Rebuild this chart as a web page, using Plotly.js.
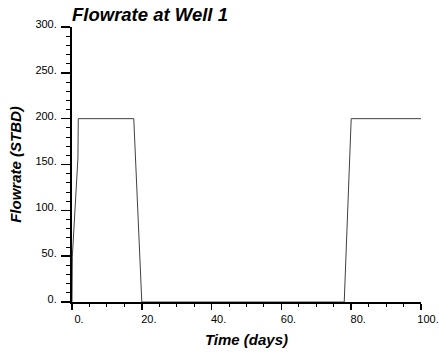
<!DOCTYPE html>
<html><head><meta charset="utf-8">
<script src="https://cdn.plot.ly/plotly-3.0.1.min.js"></script>
<style>html,body{margin:0;padding:0;background:#fff}#chart{width:439px;height:355px}</style>
</head><body><div id="chart"></div>
<script>
var timeDays = [0, 0.1, 1.7, 1.8, 17.7, 20, 78, 80, 100];
var flowrate = [0, 50, 157, 200, 200, 0, 0, 200, 200];
var xTicks = [0, 20, 40, 60, 80, 100];
var yTicks = [0, 50, 100, 150, 200, 250, 300];

var F = 'Liberation Sans, Arial, Helvetica, sans-serif';
var trace = {x: timeDays, y: flowrate, type: 'scatter', mode: 'lines',
  line: {color: '#404040', width: 1}, hoverinfo: 'none'};
var layout = {
  width: 439, height: 355,
  margin: {l: 72, r: 18, t: 27, b: 53},
  paper_bgcolor: '#fff', plot_bgcolor: '#fff',
  showlegend: false,
  title: {text: 'Flowrate at Well 1', x: 72/439, xanchor: 'left', xref: 'container',
    y: 1 - 15/355, yanchor: 'middle', yref: 'container',
    font: {family: F, size: 18.5, color: '#000', weight: 'bold', style: 'italic'}},
  xaxis: {range: [0, 100], tickvals: xTicks, ticktext: xTicks.map(function(v){return v + '.';}),
    showgrid: false, zeroline: false, showline: true, linecolor: '#000', linewidth: 2,
    ticks: 'outside', ticklen: 6, tickwidth: 1.5, tickcolor: '#000',
    minor: {dtick: 5, ticks: 'outside', ticklen: 3, tickwidth: 1, tickcolor: '#000', showgrid: false},
    ticklabelshift: 7, ticklabelstandoff: 0, ticklabeloverflow: 'allow',
    tickfont: {family: F, size: 11, color: '#000'},
    title: {text: 'Time (days)', standoff: 10, font: {family: F, size: 15, color: '#000', weight: 'bold', style: 'italic'}}},
  yaxis: {range: [0, 300], tickvals: yTicks, ticktext: yTicks.map(function(v){return v + '.';}),
    showgrid: false, zeroline: false, showline: true, linecolor: '#000', linewidth: 2,
    ticks: 'outside', ticklen: 9, tickwidth: 1.5, tickcolor: '#000',
    minor: {dtick: 10, ticks: 'outside', ticklen: 4, tickwidth: 1, tickcolor: '#000', showgrid: false},
    ticklabelshift: -3, ticklabelstandoff: 2, ticklabeloverflow: 'allow',
    tickfont: {family: F, size: 11, color: '#000'},
    title: {text: 'Flowrate (STBD)', standoff: 10, font: {family: F, size: 15, color: '#000', weight: 'bold', style: 'italic'}}}
};
Plotly.newPlot('chart', [trace], layout, {staticPlot: true, displayModeBar: false});
</script></body></html>
